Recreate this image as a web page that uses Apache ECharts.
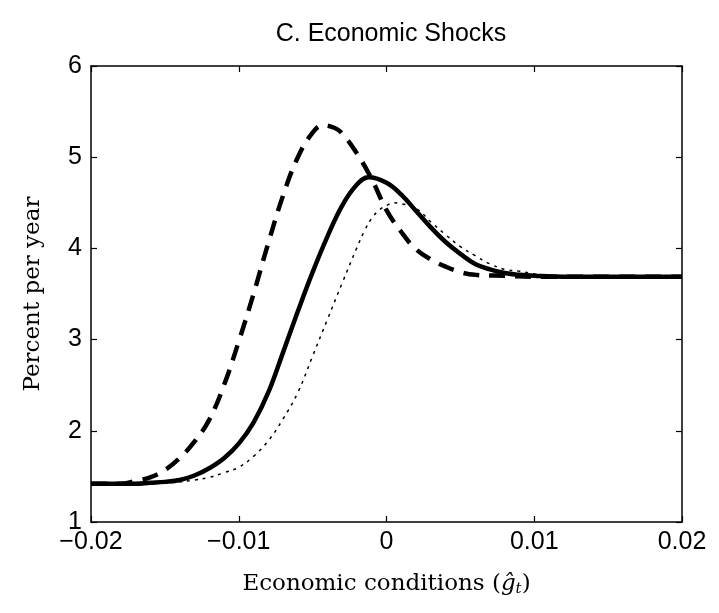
<!DOCTYPE html>
<html>
<head>
<meta charset="utf-8">
<script src="https://cdn.jsdelivr.net/npm/echarts@6/dist/echarts.min.js"></script>
<style>
html,body{margin:0;padding:0;background:#fff;}
#chart{width:719px;height:613px;}
</style>
</head>
<body>
<div id="chart"></div>
<script>
var titleText = "C. Economic Shocks";
var yAxisName = "Percent per year";
var xTicks = [-0.02, -0.01, 0, 0.01, 0.02];
var xTickLabels = ["\u22120.02", "\u22120.01", "0", "0.01", "0.02"];
var yTicks = [1, 2, 3, 4, 5, 6];

var solidX = [-0.020,-0.017,-0.016,-0.015,-0.014,-0.013,-0.012,-0.011,-0.010,-0.009,-0.008,-0.007,-0.006,-0.005,-0.004,-0.003,-0.002,-0.0012,0.000,0.001,0.002,0.003,0.004,0.005,0.006,0.007,0.008,0.009,0.010,0.012,0.020];
var solidY = [1.42,1.42,1.43,1.44,1.46,1.51,1.59,1.70,1.86,2.09,2.42,2.86,3.31,3.74,4.13,4.47,4.70,4.78,4.72,4.59,4.41,4.23,4.07,3.94,3.83,3.77,3.73,3.71,3.70,3.69,3.69];

var dashedX = [-0.020,-0.018,-0.017,-0.016,-0.015,-0.014,-0.013,-0.012,-0.011,-0.010,-0.009,-0.008,-0.007,-0.006,-0.005,-0.0043,-0.0035,-0.003,-0.002,-0.001,0.000,0.001,0.002,0.003,0.004,0.005,0.006,0.008,0.010,0.020];
var dashedY = [1.42,1.42,1.45,1.49,1.57,1.70,1.88,2.12,2.50,2.98,3.50,4.06,4.58,5.00,5.27,5.35,5.32,5.26,5.04,4.76,4.42,4.18,3.99,3.88,3.80,3.74,3.71,3.70,3.69,3.69];

var dottedX = [-0.020,-0.016,-0.015,-0.014,-0.013,-0.012,-0.011,-0.010,-0.009,-0.008,-0.007,-0.006,-0.005,-0.004,-0.003,-0.002,-0.0015,-0.001,-0.0005,0.000,0.0005,0.001,0.002,0.003,0.004,0.005,0.006,0.007,0.008,0.009,0.010,0.011,0.012,0.020];
var dottedY = [1.42,1.42,1.43,1.44,1.46,1.49,1.54,1.60,1.72,1.89,2.13,2.42,2.82,3.22,3.62,4.01,4.19,4.33,4.42,4.47,4.50,4.49,4.44,4.29,4.15,4.02,3.92,3.83,3.77,3.75,3.72,3.70,3.69,3.69];

function pairs(xs, ys){ return xs.map(function(x,i){ return [x, ys[i]]; }); }

var chart = echarts.init(document.getElementById('chart'), null, {renderer:'canvas'});
var sans = "Liberation Sans, Arial, Helvetica, sans-serif";
var serif = "DejaVu Serif, Liberation Serif, serif";

function xFmt(v){
  for (var i=0;i<xTicks.length;i++){ if (Math.abs(v - xTicks[i]) < 1e-9) return xTickLabels[i]; }
  return '';
}

var option = {
  animation: false,
  backgroundColor: '#ffffff',
  title: {
    text: titleText,
    left: 386, textAlign: 'center', top: 17,
    textStyle: {fontFamily: sans, fontSize: 25, fontWeight: 'normal', color: '#000'}
  },
  grid: {left: 91, right: 37, top: 66, bottom: 91, containLabel: false},
  xAxis: [{
    type: 'value', min: -0.02, max: 0.02, interval: 0.01,
    position: 'bottom',
    axisLine: {show: true, onZero: false, lineStyle: {color: '#000', width: 1.5}},
    axisTick: {show: true, inside: true, length: 6, lineStyle: {color: '#000', width: 1.2}},
    axisLabel: {formatter: xFmt, fontFamily: sans, fontSize: 25, color: '#000', margin: 8},
    splitLine: {show: false},
    name: '{n|Economic conditions (}{g|\u011D}{s|t}{n|)}',
    nameLocation: 'middle', nameGap: 50,
    nameTextStyle: {
      rich: {
        n: {fontFamily: serif, fontSize: 23, color: '#000'},
        g: {fontFamily: serif, fontSize: 23, fontStyle: 'italic', color: '#000'},
        s: {fontFamily: serif, fontSize: 15, fontStyle: 'italic', color: '#000', padding: [10,0,0,0]}
      }
    }
  },{
    type: 'value', min: -0.02, max: 0.02, interval: 0.01,
    position: 'top',
    axisLine: {show: true, onZero: false, lineStyle: {color: '#000', width: 1.5}},
    axisTick: {show: true, inside: true, length: 6, lineStyle: {color: '#000', width: 1.2}},
    axisLabel: {show: false},
    splitLine: {show: false}
  }],
  yAxis: [{
    type: 'value', min: 1, max: 6, interval: 1,
    position: 'left',
    axisLine: {show: true, onZero: false, lineStyle: {color: '#000', width: 1.5}},
    axisTick: {show: true, inside: true, length: 6, lineStyle: {color: '#000', width: 1.2}},
    axisLabel: {fontFamily: sans, fontSize: 25, color: '#000', margin: 9},
    splitLine: {show: false},
    name: yAxisName, nameLocation: 'middle', nameGap: 46, nameRotate: 90,
    nameTextStyle: {fontFamily: serif, fontSize: 23, color: '#000'}
  },{
    type: 'value', min: 1, max: 6, interval: 1,
    position: 'right',
    axisLine: {show: true, onZero: false, lineStyle: {color: '#000', width: 1.5}},
    axisTick: {show: true, inside: true, length: 6, lineStyle: {color: '#000', width: 1.2}},
    axisLabel: {show: false},
    splitLine: {show: false}
  }],
  series: [{
    type: 'line', name: 'dotted', data: pairs(dottedX, dottedY),
    showSymbol: false, smooth: 0.4,
    lineStyle: {color: '#000', width: 1.5, type: [3, 5]}
  },{
    type: 'line', name: 'dashed', data: pairs(dashedX, dashedY),
    showSymbol: false, smooth: 0.4,
    lineStyle: {color: '#000', width: 4.5, type: [16, 10]}
  },{
    type: 'line', name: 'solid', data: pairs(solidX, solidY),
    showSymbol: false, smooth: 0.4,
    lineStyle: {color: '#000', width: 4.5}
  }]
};
chart.setOption(option);
</script>
</body>
</html>
